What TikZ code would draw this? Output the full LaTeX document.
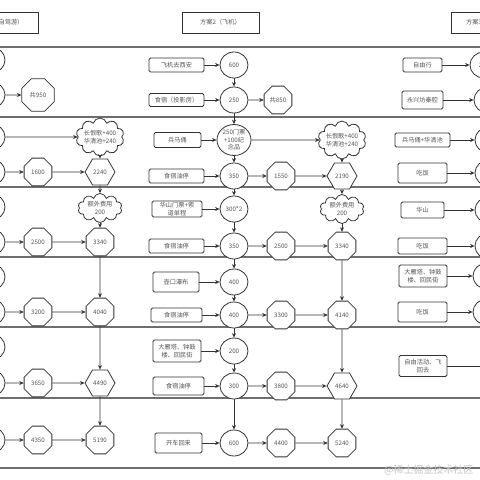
\documentclass[tikz,border=0pt]{standalone}
\usepackage{fontspec}
\newfontfamily\cjk{Noto Sans CJK SC}
\usetikzlibrary{shapes.geometric, shapes.symbols, arrows.meta}
\definecolor{linec}{HTML}{333333}
\definecolor{txtc}{HTML}{555555}
\definecolor{sepc}{HTML}{6E6E6E}

\begin{document}
\begin{tikzpicture}[x=1pt, y=-1pt,
    every node/.style={font=\cjk\fontsize{6.2}{7.4}\selectfont, text=txtc},
    header/.style={draw=linec, line width=0.8pt, rectangle, fill=white, minimum width=77pt, minimum height=21pt},
    task/.style={draw=linec, line width=0.8pt, rectangle, rounded corners=1.5pt, fill=white, minimum width=50pt, minimum height=16pt, align=center, inner sep=1pt},
    cost/.style={draw=linec, line width=0.8pt, ellipse, fill=white, minimum width=28pt, minimum height=26pt, inner sep=0.5pt, align=center},
    total/.style={draw=linec, line width=0.8pt, regular polygon, regular polygon sides=8, fill=white, minimum size=30pt, inner sep=0pt},
    totalhex/.style={total, regular polygon sides=6},
    extra/.style={draw=linec, line width=0.8pt, cloud, cloud puffs=10, aspect=1.5, fill=white, inner sep=-0.8pt, minimum width=44pt, minimum height=29pt, align=center},
    arrow/.style={line width=0.8pt, draw=linec, -{Stealth[length=4.5pt,width=4pt]}},
    sep/.style={line width=1.1pt, draw=sepc}]

    \useasboundingbox (0,0) rectangle (480,480);
    \fill[white] (0,0) rectangle (480,480);
    \clip (0,0) rectangle (480,480);

    % Row separators
    \foreach \y in {47,117,187,257,327,398,468}
        \draw[sep] (-5,\y) -- (485,\y);

    % Headers
    \node (plan1) [header] at (0,22.5) {方案1（自驾游）};
    \node (plan2) [header] at (220.5,22.5) {方案2（飞机）};
    \node (plan3) [header] at (489.5,22.5) {方案3（自由行）};

    % Plan 1 (drive)
    \node (dc11) [cost] at (-9,60) {};
    \node (dc12) [cost] at (-9,95) {};
    \node (dsum1) [total, minimum size=35pt] at (38,95) {共950};
    \node (dc21) [cost] at (-9,137) {};
    \node (dextra2) [extra] at (100,137) {长恨歌+400\\华清池+240};
    \node (dc22) [cost] at (-9,172) {};
    \node (dt22) [total] at (38,172) {1600};
    \node (dt23) [totalhex] at (100,172) {2240};
    \node (dc31) [cost] at (-9,207) {};
    \node (dextra3) [extra] at (100,208) {额外费用\\200};
    \node (dc32) [cost] at (-9,242) {};
    \node (dt32) [total] at (38,242) {2500};
    \node (dt33) [total] at (100,242) {3340};
    \node (dc41) [cost] at (-9,277) {};
    \node (dc42) [cost] at (-9,312) {};
    \node (dt42) [total] at (38,312) {3200};
    \node (dt43) [total] at (100,312) {4040};
    \node (dc51) [cost] at (-9,347) {};
    \node (dc52) [cost] at (-9,383) {};
    \node (dt52) [total] at (38,383) {3650};
    \node (dt53) [totalhex] at (100,383) {4490};
    \node (dc61) [cost] at (-9,440) {};
    \node (dt62) [total] at (38,440) {4350};
    \node (dt63) [total] at (100,440) {5190};

    \draw [arrow] (dc12) -- (dsum1);
    \draw [arrow] (dc21) -- (dextra2);
    \draw [arrow] (dc22) -- (dt22);
    \draw [arrow] (dt22) -- (dt23);
    \draw [arrow] (dextra2) -- (dt23);
    \draw [arrow] (dt23) -- (dextra3);
    \draw [arrow] (dextra3) -- (dt33);
    \draw [arrow] (dc32) -- (dt32);
    \draw [arrow] (dt32) -- (dt33);
    \draw [arrow] (dt33) -- (dt43);
    \draw [arrow] (dc42) -- (dt42);
    \draw [arrow] (dt42) -- (dt43);
    \draw [arrow] (dt43) -- (dt53);
    \draw [arrow] (dc52) -- (dt52);
    \draw [arrow] (dt52) -- (dt53);
    \draw [arrow] (dt53) -- (dt63);
    \draw [arrow] (dc61) -- (dt62);
    \draw [arrow] (dt62) -- (dt63);

    % Plan 2 (plane)
    \node (fb11) [task, minimum width=55pt, minimum height=14pt] at (176.5,65) {飞机去西安};
    \node (fc11) [cost] at (234,65) {600};
    \node (fb12) [task, minimum width=55pt, minimum height=13pt] at (176.5,100) {食宿（投影房）};
    \node (fc12) [cost] at (234,100) {250};
    \node (fsum1) [total] at (278,100) {共850};
    \node (fb21) [task, minimum width=47pt, minimum height=15pt] at (177.5,140) {兵马俑};
    \node (fc21) [cost, minimum width=34pt, minimum height=31pt] at (234,140) {250门票\\+100纪\\念品};
    \node (fextra2) [extra] at (342,140) {长恨歌+400\\华清池+240};
    \node (fb22) [task, minimum width=55pt, minimum height=14pt] at (176.5,176) {食宿油停};
    \node (fc22) [cost] at (234,176) {350};
    \node (ft22) [total] at (281,176) {1550};
    \node (ft23) [totalhex] at (342,176) {2190};
    \node (fb31) [task] at (177,209) {华山门票+索\\道单程};
    \node (fc31) [cost] at (234,209) {300*2};
    \node (fextra3) [extra] at (342,209) {额外费用\\200};
    \node (fb32) [task, minimum width=55pt, minimum height=14pt] at (176.5,246) {食宿油停};
    \node (fc32) [cost] at (234,246) {350};
    \node (ft32) [total] at (281,246) {2500};
    \node (ft33) [total] at (342,246) {3340};
    \node (fb41) [task, minimum width=46pt, minimum height=20pt] at (176,282) {壶口瀑布};
    \node (fc41) [cost] at (234,282) {400};
    \node (fb42) [task, minimum width=51pt, minimum height=14pt] at (176.5,315) {食宿油停};
    \node (fc42) [cost] at (234,315) {400};
    \node (ft42) [total] at (281,315) {3300};
    \node (ft43) [total] at (342,315) {4140};
    \node (fb51) [task, minimum width=48pt, minimum height=22pt] at (177,351) {大雁塔、钟鼓\\楼、回民街};
    \node (fc51) [cost] at (234,351) {200};
    \node (fb52) [task, minimum width=51pt, minimum height=18pt] at (178.5,386) {食宿油停};
    \node (fc52) [cost] at (234,386) {300};
    \node (ft52) [total] at (281,386) {3800};
    \node (ft53) [totalhex] at (342,386) {4640};
    \node (fb61) [task, minimum width=47pt, minimum height=20pt] at (178.5,443) {开车回来};
    \node (fc61) [cost] at (234,443) {600};
    \node (ft62) [total] at (281,443) {4400};
    \node (ft63) [total] at (342,443) {5240};

    \draw [arrow] (fb11) -- (fc11);
    \draw [arrow] (fc11) -- (fc12);
    \draw [arrow] (fb12) -- (fc12);
    \draw [arrow] (fc12) -- (fsum1);
    \draw [arrow] (fc12) -- (fc21);
    \draw [arrow] (fb21) -- (fc21);
    \draw [arrow] (fc21) -- (fextra2);
    \draw [arrow] (fc21) -- (fc22);
    \draw [arrow] (fb22) -- (fc22);
    \draw [arrow] (fc22) -- (ft22);
    \draw [arrow] (ft22) -- (ft23);
    \draw [arrow] (fextra2) -- (ft23);
    \draw [arrow] (fc22) -- (fc31);
    \draw [arrow] (fb31) -- (fc31);
    \draw [arrow] (ft23) -- (fextra3);
    \draw [arrow] (fc31) -- (fc32);
    \draw [arrow] (fb32) -- (fc32);
    \draw [arrow] (fc32) -- (ft32);
    \draw [arrow] (ft32) -- (ft33);
    \draw [arrow] (fextra3) -- (ft33);
    \draw [arrow] (fc32) -- (fc41);
    \draw [arrow] (fb41) -- (fc41);
    \draw [arrow] (fc41) -- (fc42);
    \draw [arrow] (fb42) -- (fc42);
    \draw [arrow] (fc42) -- (ft42);
    \draw [arrow] (ft42) -- (ft43);
    \draw [arrow] (ft33) -- (ft43);
    \draw [arrow] (fc42) -- (fc51);
    \draw [arrow] (fb51) -- (fc51);
    \draw [arrow] (fc51) -- (fc52);
    \draw [arrow] (fb52) -- (fc52);
    \draw [arrow] (fc52) -- (ft52);
    \draw [arrow] (ft52) -- (ft53);
    \draw [arrow] (ft43) -- (ft53);
    \draw [arrow] (fc52) -- (fc61);
    \draw [arrow] (fb61) -- (fc61);
    \draw [arrow] (fc61) -- (ft62);
    \draw [arrow] (ft62) -- (ft63);
    \draw [arrow] (ft53) -- (ft63);

    % Plan 3 (free travel)
    \node (sb11) [task, minimum width=39pt, minimum height=14pt] at (422.5,65) {自由行};
    \node (sc11) [cost] at (484,65) {200};
    \node (sb12) [task, minimum width=41pt, minimum height=18pt] at (422.5,100) {永兴坊秦腔};
    \node (sc12) [cost] at (488,100) {};
    \node (sb21) [task, minimum width=55pt, minimum height=14pt] at (422.5,140) {兵马俑+华清池};
    \node (sc21) [cost] at (489,140) {};
    \node (sb22) [task, minimum width=49pt, minimum height=20pt] at (422.5,173) {吃饭};
    \node (sc22) [cost] at (489,173) {};
    \node (sb31) [task, minimum width=43pt, minimum height=16pt] at (422.5,210) {华山};
    \node (sc31) [cost] at (489,210) {};
    \node (sb32) [task, minimum width=49pt, minimum height=16pt] at (422.5,246) {吃饭};
    \node (sc32) [cost] at (489,246) {};
    \node (sb41) [task, minimum width=48pt, minimum height=22pt] at (423,276) {大雁塔、钟鼓\\楼、回民街};
    \node (sc41) [cost] at (487,276) {};
    \node (sb42) [task, minimum width=49pt, minimum height=20pt] at (422.5,312) {吃饭};
    \node (sc42) [cost] at (487,312) {};
    \node (sb51) [task, minimum width=48pt, minimum height=21pt] at (423,366) {自由活动、飞\\回去};
    \node (sc51) [cost] at (505,366) {};

    \draw [arrow] (sb11) -- (sc11);
    \draw [arrow] (sb12) -- (sc12);
    \draw [arrow] (sb21) -- (sc21);
    \draw [arrow] (sb22) -- (sc22);
    \draw [arrow] (sb31) -- (sc31);
    \draw [arrow] (sb32) -- (sc32);
    \draw [arrow] (sb41) -- (sc41);
    \draw [arrow] (sb42) -- (sc42);
    \draw [arrow] (sb51) -- (sc51);

    \node (mark) [anchor=east, font=\cjk\fontsize{10}{12}\selectfont, text=gray!45] at (477,470) {@稀土掘金技术社区};
\end{tikzpicture}
\end{document}
